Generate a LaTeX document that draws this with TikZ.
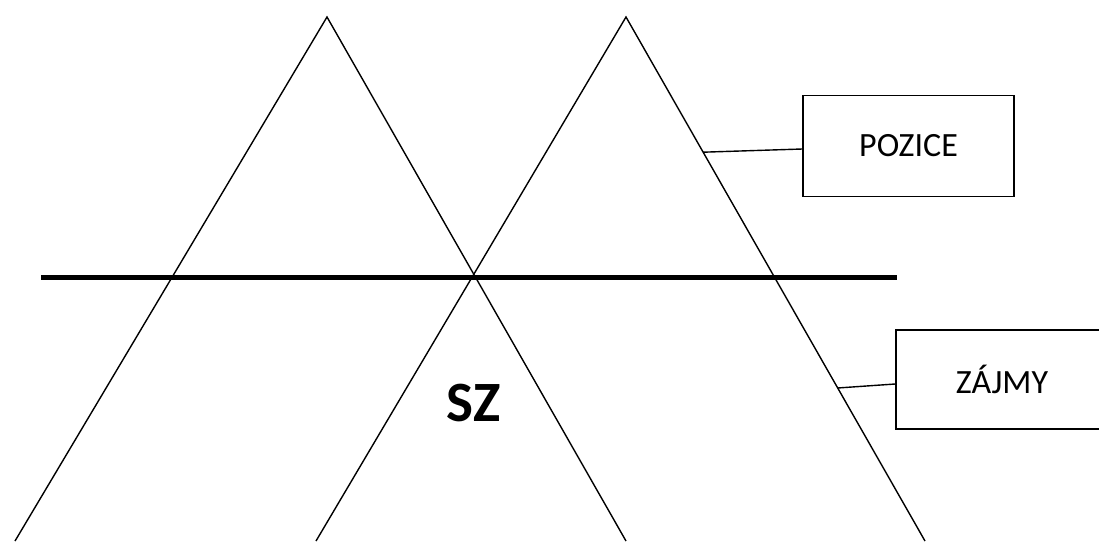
\documentclass[tikz,border=0pt]{standalone}
\usepackage{fontspec}
\setmainfont{Carlito}
\usetikzlibrary{calc,positioning}
\tikzset{
  side/.style={line width=1.4pt},
  axis/.style={line width=5pt},
  lbl/.style={draw,line width=1.6pt,minimum width=211pt,minimum height=101pt,inner sep=0pt,font=\fontsize{34}{36}\selectfont},
  link/.style={line width=1.4pt},
  every node/.style={font=\small}
}
\begin{document}
\begin{tikzpicture}[x=1pt,y=-1pt]
\useasboundingbox (0,0) rectangle (1099,541);
\clip (0,0) rectangle (1099,541);
% apexes and feet of the two triangles
\coordinate (L) at (327,17);
\coordinate (LA) at (15,541);
\coordinate (LB) at (626,541);
\coordinate (R) at (626,17);
\coordinate (RA) at (316,541);
\coordinate (RB) at (925,541);
\draw[side] (LA) -- (L) -- (LB);
\draw[side] (RA) -- (R) -- (RB);
% dividing line
\coordinate (h1) at (41,277);
\coordinate (h2) at (897,277);
\draw[axis] (h1) -- (h2);
\node[font=\bfseries\fontsize{57}{60}\selectfont] (sz) at (474,403) {SZ};
% labels on the right
\node[lbl] (poz) at (908.5,146) {POZICE};
\node[lbl,minimum width=212pt,minimum height=99pt] (zaj) at (1002,379.5) {ZÁJMY};
\coordinate (p1) at ($(R)!0.258!(RB)$);
\coordinate (z1) at ($(R)!0.708!(RB)$);
\draw[link] (p1) -- ($(poz.west)+(0,3)$);
\draw[link] (z1) -- ($(zaj.west)+(0,4.5)$);
\end{tikzpicture}
\end{document}
